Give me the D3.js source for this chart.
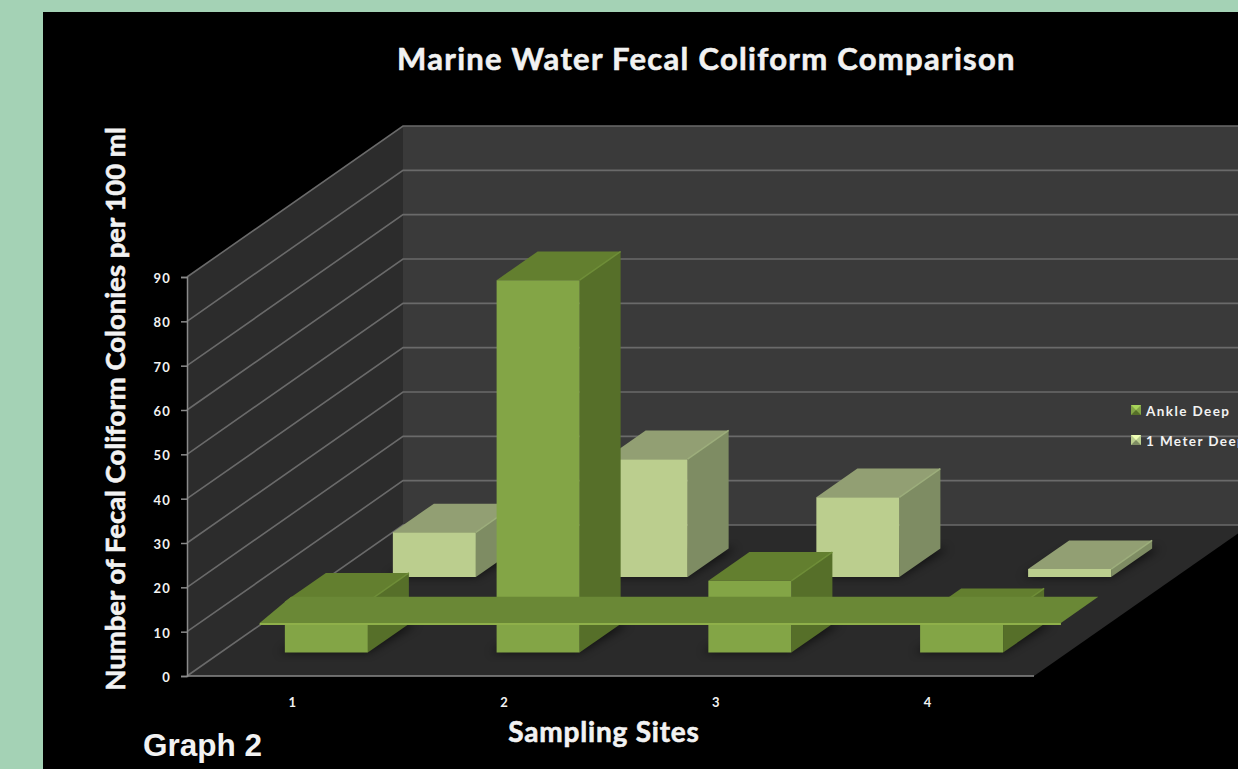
<!DOCTYPE html>
<html>
<head>
<meta charset="utf-8">
<script src="https://cdn.jsdelivr.net/npm/d3@7/dist/d3.min.js"></script>
<style>
html,body{margin:0;padding:0;background:#a4d2b5;overflow:hidden}
svg{display:block}
text{font-family:Lato,"Open Sans",sans-serif;font-weight:700;fill:#f2f2f2}
.heading{stroke:#f2f2f2;stroke-width:.6px}
</style>
</head>
<body>
<svg id="chart" width="1238" height="769"></svg>
<script>
// Fecal coliform counts per site, by sampling depth
const sites = ["1", "2", "3", "4"];
const seriesNames = ["Ankle Deep", "1 Meter Deep"];
const ankleDeep = [11.5, 84, 16.2, 8];
const oneMeterDeep = [10.1, 26.6, 18, 1.8];
const valueTicks = [0, 10, 20, 30, 40, 50, 60, 70, 80, 90];

// Flat green plate lying across the chart
const plateValue = 6.8;
const plateDepth = [0.152, 0.325];
const plateFrontSpan = [0.047, 0.993];
const plateBackSpan = [0.04, 0.993];

const faces = {
  "Ankle Deep": {front: "#83a546", top: "#637f2f", side: "#566f29", edge: "#6f8e38"},
  "1 Meter Deep": {front: "#bbce8e", top: "#929f73", side: "#7e8c63", edge: "#9dae7c"}
};
const wallColor = "#3a3a3a", sideWallColor = "#2c2c2c", floorColor = "#2a2a2a", gridColor = "#6a6a6a";

const svg = d3.select("#chart");
const W = 1238, H = 769;

svg.append("rect").attr("width", W).attr("height", H).attr("fill", "#a4d2b5");
svg.append("rect").attr("x", 43).attr("y", 12).attr("width", W - 43).attr("height", H - 12).attr("fill", "#000");

const defs = svg.append("defs");
defs.append("filter").attr("id", "soft").attr("x", "-30%").attr("y", "-30%").attr("width", "160%").attr("height", "160%")
  .append("feGaussianBlur").attr("stdDeviation", 5);

// Oblique projection: a site position, a depth (0 front, 1 back) and a value map to the page
const x = d3.scaleBand().domain(sites).range([187, 1034]).paddingInner(0.608).paddingOuter(0.304);
const xRange = d3.scaleLinear().domain([0, 1]).range([187, 1034]);
const y = d3.scaleLinear().domain([0, 90]).range([676, 277]);
const depthX = d3.scaleLinear().domain([0, 1]).range([0, 216]);
const depthY = d3.scaleLinear().domain([0, 1]).range([0, -151]);
const depth = d3.scaleBand().domain(seriesNames).range([0, 1]).paddingInner(0.62).paddingOuter(0.31);

const project = (px, d, v) => [px + depthX(d), y(v) + depthY(d)];
const poly = pts => "M" + pts.map(p => p.join(",")).join("L") + "Z";

const plot = svg.append("g");

// Floor, side wall and back wall
const vMax = 90, x0 = xRange(0), x1 = xRange(1.1);
plot.append("path").attr("fill", wallColor)
  .attr("d", poly([project(x0, 1, 0), project(x1, 1, 0), project(x1, 1, vMax), project(x0, 1, vMax)]));
plot.append("path").attr("fill", sideWallColor)
  .attr("d", poly([project(x0, 0, 0), project(x0, 1, 0), project(x0, 1, vMax), project(x0, 0, vMax)]));
plot.append("path").attr("fill", floorColor)
  .attr("d", poly([project(x0, 0, 0), project(xRange(1), 0, 0), project(xRange(1), 1, 0), project(x0, 1, 0)]));

// Gridlines run along the side wall and then across the back wall
plot.selectAll(".grid").data(valueTicks).join("path")
  .attr("class", "grid").attr("fill", "none").attr("stroke", gridColor)
  .attr("stroke-width", 1.6)
  .attr("d", v => "M" + project(x0, 0, v).join(",") + "L" + project(x0, 1, v).join(",") + "L" + project(x1, 1, v).join(","));

// Value axis and site axis
const yAxis = plot.append("g").attr("transform", `translate(${x0},0)`)
  .call(d3.axisLeft(y).tickValues(valueTicks).tickSize(6).tickPadding(10));
const xAxis = plot.append("g").attr("transform", `translate(0,${y(0)})`)
  .call(d3.axisBottom(x).tickSize(0).tickPadding(22));
[yAxis, xAxis].forEach(a => {
  a.selectAll("path,line").attr("stroke", "#8a8a8a").attr("stroke-width", 1.5);
  a.selectAll("text").style("font-family", "Lato,sans-serif").style("font-weight", 700)
    .style("font-size", "13px").style("letter-spacing", "1.2px").attr("fill", "#e4e4e4");
});
yAxis.selectAll("text").attr("dy", "0.42em");
xAxis.select(".domain").attr("d", `M${x0},0H${xRange(1)}`);

// Bars: back row first so the front row overlaps it
const rows = [
  {name: "1 Meter Deep", values: oneMeterDeep},
  {name: "Ankle Deep", values: ankleDeep}
];
rows.forEach(row => {
  const c = faces[row.name];
  const d0 = depth(row.name), d1 = d0 + depth.bandwidth();
  const g = plot.append("g").attr("class", "series");
  const bars = g.selectAll("g").data(sites.map((s, i) => ({site: s, value: row.values[i]}))).join("g");

  bars.append("path").attr("fill", "#000").attr("opacity", 0.6).attr("filter", "url(#soft)")
    .attr("d", b => {
      const l = x(b.site) - 6, r = x(b.site) + x.bandwidth();
      return poly([project(l, d0, 0), project(r, d0, 0), project(r + 8, d1, 0), project(l + 8, d1, 0)]);
    });
  bars.append("path").attr("fill", c.side)
    .attr("d", b => {
      const r = x(b.site) + x.bandwidth();
      return poly([project(r, d0, 0), project(r, d1, 0), project(r, d1, b.value), project(r, d0, b.value)]);
    });
  bars.append("path").attr("fill", c.top)
    .attr("d", b => {
      const l = x(b.site), r = l + x.bandwidth();
      return poly([project(l, d0, b.value), project(r, d0, b.value), project(r, d1, b.value), project(l, d1, b.value)]);
    });
  bars.append("path").attr("fill", "none").attr("stroke", c.edge).attr("stroke-width", 1.5)
    .attr("d", b => {
      const r = x(b.site) + x.bandwidth();
      return "M" + project(r, d0, b.value).join(",") + "L" + project(r, d1, b.value).join(",");
    });
  bars.append("path").attr("fill", c.front)
    .attr("d", b => {
      const l = x(b.site), r = l + x.bandwidth();
      return poly([project(l, d0, 0), project(r, d0, 0), project(r, d0, b.value), project(l, d0, b.value)]);
    });
});

// Plate on top of every bar, with a lighter front lip
const frontA = xRange(plateFrontSpan[0]), frontB = xRange(plateFrontSpan[1]);
const backA = xRange(plateBackSpan[0]), backB = xRange(plateBackSpan[1]);
plot.append("path").attr("fill", "#6a8836")
  .attr("d", poly([project(frontA, plateDepth[0], plateValue), project(frontB, plateDepth[0], plateValue),
                   project(backB, plateDepth[1], plateValue), project(backA, plateDepth[1], plateValue)]));
plot.append("path").attr("fill", "#8fb04a")
  .attr("d", poly([project(frontA, plateDepth[0], plateValue), project(frontB, plateDepth[0], plateValue),
                   project(frontB, plateDepth[0], plateValue - 0.5), project(frontA, plateDepth[0], plateValue - 0.5)]));

// Titles
svg.append("text").attr("class", "heading").attr("x", 706.5).attr("y", 70).attr("text-anchor", "middle")
  .style("font-size", "31px").style("letter-spacing", "1.3px").text("Marine Water Fecal Coliform Comparison");
svg.append("text").attr("class", "heading").attr("x", 604).attr("y", 742).attr("text-anchor", "middle")
  .style("font-size", "28px").style("letter-spacing", "0.8px").text("Sampling Sites");
svg.append("text").attr("class", "heading").attr("transform", "translate(125,409) rotate(-90)").attr("text-anchor", "middle")
  .style("font-size", "27.5px").text("Number of Fecal Coliform Colonies per 100 ml");
svg.append("text").attr("x", 143).attr("y", 756)
  .style("font-family", "'Liberation Sans',Arial,sans-serif").style("font-size", "31.5px").attr("fill", "#fff").text("Graph 2");

// Legend with bevelled swatches
const legend = svg.append("g").selectAll("g").data(seriesNames).join("g")
  .attr("transform", (d, i) => `translate(1131,${405 + i * 30})`);
legend.append("rect").attr("width", 10).attr("height", 10).attr("fill", d => faces[d].front);
legend.append("path").attr("fill", d => d3.color(faces[d].front).brighter(0.7))
  .attr("d", "M0,0H10L5,5Z");
legend.append("path").attr("fill", d => faces[d].side)
  .attr("d", "M0,10H10L5,5Z");
legend.append("text").attr("x", 15).attr("y", 10.5)
  .style("font-size", "13.5px").style("letter-spacing", "1.4px").attr("fill", "#e8e8e8").text(d => d);
</script>
</body>
</html>
